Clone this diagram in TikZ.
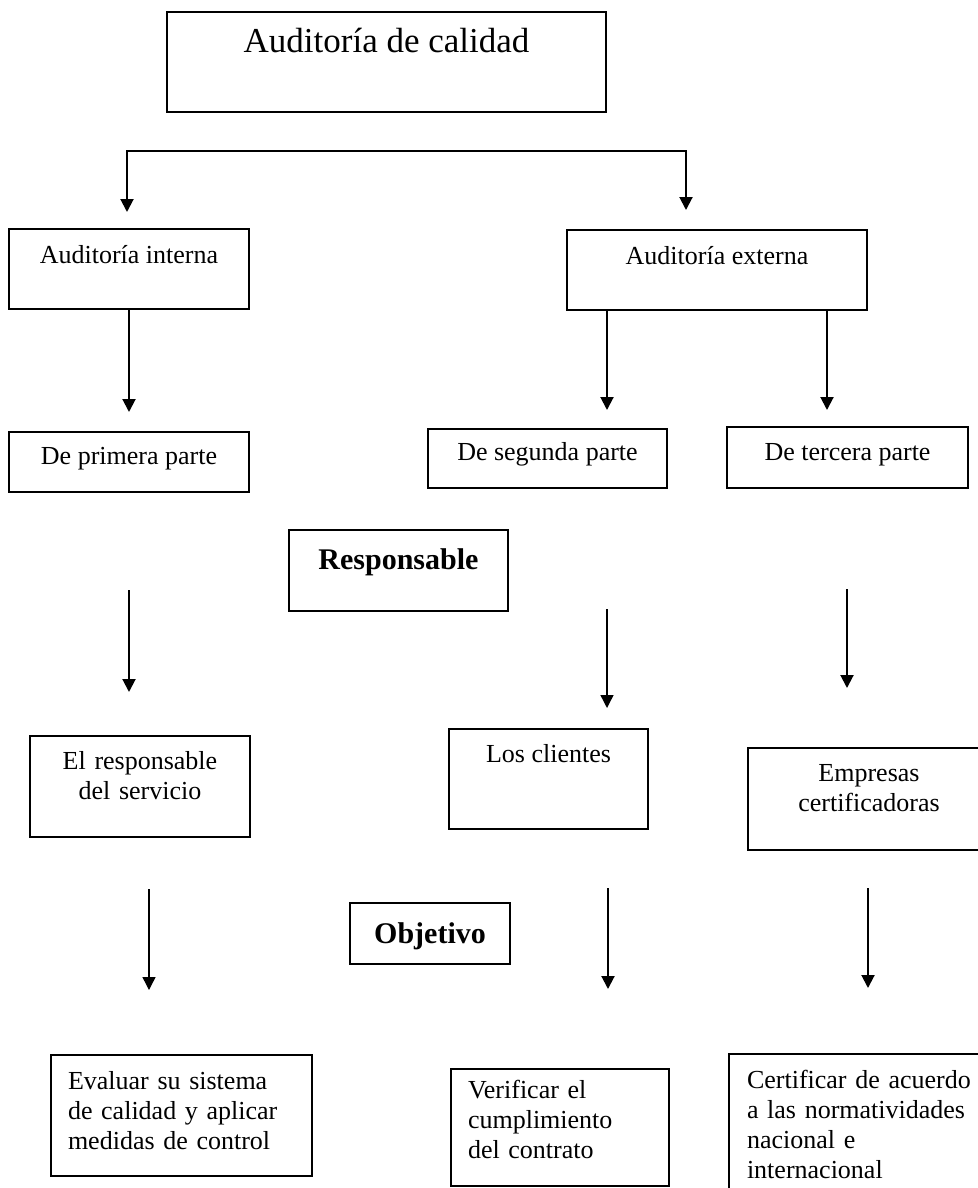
\documentclass[tikz,border=0pt]{standalone}
\usepackage{fontspec}
\setmainfont{Liberation Serif}
\usetikzlibrary{arrows.meta}

\begin{document}
\begin{tikzpicture}[x=0.5pt,y=-0.5pt,>={Triangle[width=6.5pt,length=6.5pt]},
    box/.style={draw,line width=0.8pt,rectangle,inner sep=0pt,font=\fontsize{13}{15}\selectfont},
    title/.style={box,font=\fontsize{17.5}{21}\selectfont},
    head/.style={box,font=\fontsize{15}{18}\selectfont\bfseries},
    link/.style={->,line width=1pt},
    thin link/.style={->,line width=0.7pt}]
    \useasboundingbox (0,0) rectangle (978,1188);
    \clip (0,0) rectangle (978,1188);

    \node[title,minimum width=219.5pt,text height=20.5pt,text depth=29.5pt] (calidad) at (386.5,62) {Auditoría de calidad};
    \node[box,minimum width=120pt,text height=17pt,text depth=23pt] (interna) at (129,269) {Auditoría interna};
    \node[box,minimum width=150pt,text height=17pt,text depth=23pt] (externa) at (717,270) {Auditoría externa};
    \node[box,minimum width=120pt,text height=16pt,text depth=14pt] (primera) at (129,462) {De primera parte};
    \node[box,minimum width=119.5pt,text height=15.5pt,text depth=14pt] (segunda) at (547.5,458.5) {De segunda parte};
    \node[box,minimum width=120.5pt,text height=16.5pt,text depth=14pt] (tercera) at (847.5,457.5) {De tercera parte};
    \node[head,minimum width=109.5pt,text height=19.5pt,text depth=21pt] (responsable) at (398.5,570.5) {Responsable};
    \node[box,text width=110pt,align=center,text height=16.5pt,text depth=34pt] (servicio) at (140,786.5) {El responsable\\del servicio};
    \node[box,minimum width=99.5pt,text height=16.5pt,text depth=33.5pt] (clientes) at (548.5,779) {Los clientes};
    \node[box,text width=121pt,align=center,text height=16.5pt,text depth=34.5pt] (empresas) at (869,799) {Empresas\\certificadoras};
    \node[head,minimum width=80pt,text height=20pt,text depth=10.5pt] (objetivo) at (430,933.5) {Objetivo};
    \node[box,text width=113.5pt,inner xsep=8.5pt,align=left,text height=17pt,text depth=43.5pt] (evaluar) at (181.5,1115.5) {Evaluar su sistema\\de calidad y aplicar\\medidas de control};
    \node[box,text width=92pt,inner xsep=8.5pt,align=left,text height=14.5pt,text depth=44pt] (verificar) at (560,1127.5) {Verificar el\\cumplimiento\\del contrato};
    \node[box,text width=115pt,inner xsep=9pt,align=left,text height=17pt,text depth=56pt] (certificar) at (862,1127) {Certificar de acuerdo\\a las normatividades\\nacional e\\internacional};

    \coordinate (forkL) at (127,151);
    \coordinate (forkR) at (686,151);
    \coordinate (inL) at (127,212);
    \coordinate (inR) at (686,210);
    \draw[<->,line width=1pt] (inL) -- (forkL) -- (forkR) -- (inR);

    \coordinate (a1) at (129,412);
    \coordinate (a2) at (607,410);
    \coordinate (a3) at (827,410);
    \path[link] (interna) edge (a1);
    \path[link] (externa.south -| a2) edge (a2);
    \path[link] (externa.south -| a3) edge (a3);

    \coordinate (s1) at (129,590);
    \coordinate (t1) at (129,692);
    \coordinate (s2) at (607,609);
    \coordinate (t2) at (607,708);
    \coordinate (s3) at (847,589);
    \coordinate (t3) at (847,688);
    \path[link] (s1) edge (t1);
    \path[thin link] (s2) edge (t2);
    \path[link] (s3) edge (t3);

    \coordinate (u1) at (149,889);
    \coordinate (v1) at (149,990);
    \coordinate (u2) at (608,888);
    \coordinate (v2) at (608,989);
    \coordinate (u3) at (868,888);
    \coordinate (v3) at (868,988);
    \path[thin link] (u1) edge (v1);
    \path[link] (u2) edge (v2);
    \path[link] (u3) edge (v3);
\end{tikzpicture}
\end{document}
